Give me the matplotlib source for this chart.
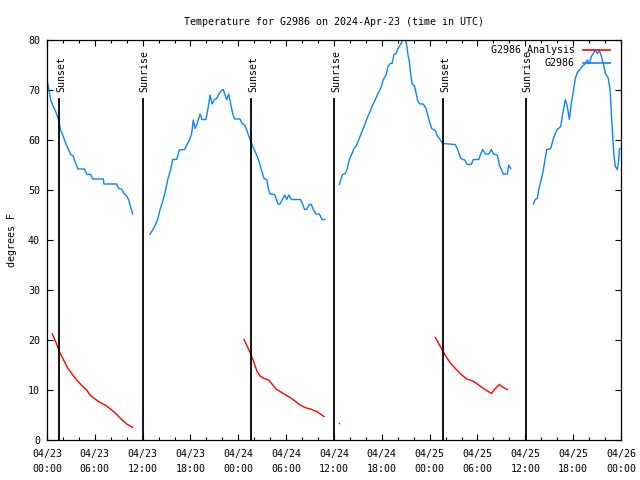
import matplotlib
matplotlib.use("Agg")
import matplotlib.pyplot as plt
import matplotlib.dates as mdates
import numpy as np
from datetime import datetime, timedelta

START = datetime(2024, 4, 23, 0, 0)

# ---- Observed temperature (G2986), hours since 2024-04-23 00:00 UTC ----
obs1_h = [0.12, 0.46, 0.79, 1.13, 1.46, 1.71, 2.05, 2.38, 2.72, 2.97, 3.30, 3.55, 3.89, 4.72, 4.98,
          5.48, 5.73, 7.07, 7.15, 8.74, 8.99, 9.41, 9.66, 10.00, 10.25, 10.41, 10.58, 10.75]
obs1_v = [71.2, 68.0, 66.7, 65.5, 64.0, 62.0, 60.7, 59.2, 58.0, 57.1, 56.8, 55.5, 54.2, 54.2, 53.2,
          53.1, 52.2, 52.2, 51.2, 51.2, 50.3, 50.1, 49.3, 48.8, 48.0, 47.0, 46.1, 45.2]

obs2_h = [12.92, 13.26, 13.59, 13.92, 14.17, 14.51, 14.84, 15.18, 15.51, 15.76, 16.27, 16.60, 17.27,
          17.52, 17.85, 18.15, 18.35, 18.57, 18.85, 19.19, 19.44, 19.94, 20.24, 20.45, 20.70, 20.95,
          21.28, 21.54, 21.87, 22.12, 22.37, 22.54, 22.79, 23.04, 23.29, 23.54, 24.21, 24.46, 24.80,
          25.05, 25.30, 25.63, 25.97, 26.30, 26.64, 26.89, 27.23, 27.56, 27.81, 27.98, 28.56, 28.98,
          29.23, 29.82, 30.07, 30.32, 30.65, 31.82, 32.32, 32.57, 32.90, 33.15, 33.40, 33.74, 34.16,
          34.50, 34.84]
obs2_v = [41.2, 42.0, 43.0, 44.3, 46.0, 47.7, 49.7, 52.3, 54.0, 56.1, 56.1, 58.0, 58.1,
          59.0, 59.9, 61.3, 64.0, 62.3, 63.3, 65.2, 64.1, 64.1, 66.7, 69.0, 67.2, 68.0,
          68.3, 69.1, 69.9, 70.1, 68.8, 68.1, 69.2, 67.2, 65.3, 64.2, 64.2, 63.3, 63.0,
          62.0, 60.8, 59.5, 58.1, 57.0, 55.5, 54.0, 52.3, 52.1, 50.0, 49.2, 49.1, 47.2,
          47.2, 49.0, 48.1, 49.0, 48.1, 48.1, 46.1, 46.1, 47.1, 47.1, 46.1, 45.2, 45.2,
          44.1, 44.1]

obs3_h = [36.67, 36.84, 37.09, 37.42, 37.67, 37.92, 38.26, 38.51, 38.84, 39.17, 39.51, 39.85, 40.18,
          40.52, 40.85, 41.19, 41.52, 41.86, 42.19, 42.53, 42.78, 43.03, 43.28, 43.53, 43.78, 44.03,
          44.37, 44.62, 44.87, 45.12, 45.28, 45.45, 45.62, 45.79, 46.12, 46.37, 46.54, 46.79, 47.20,
          47.54, 47.79, 48.04, 48.29, 48.71, 48.96, 49.30, 49.64, 51.22, 51.56, 51.89, 52.39, 52.72,
          53.22, 53.47, 54.15, 54.40, 54.65, 54.99, 55.41, 55.74, 55.99, 56.49, 56.74, 56.99, 57.24,
          57.74, 57.92, 58.17]
obs3_v = [51.1, 52.1, 53.1, 53.3, 54.3, 56.1, 57.3, 58.3, 59.0, 60.3, 61.7, 63.0, 64.5,
          65.7, 67.0, 68.1, 69.3, 70.3, 72.1, 73.0, 74.7, 75.3, 75.3, 77.1, 77.3, 78.3,
          79.2, 79.9, 80.6, 79.0, 77.0, 75.7, 73.3, 71.3, 70.7, 68.8, 67.7, 67.2, 67.2,
          66.3, 64.8, 63.3, 62.2, 61.9, 60.8, 60.1, 59.3, 59.1, 57.9, 56.3, 56.0, 55.1,
          55.1, 56.1, 56.1, 57.2, 58.1, 57.2, 57.2, 58.1, 57.2, 57.0, 55.0, 54.1, 53.2,
          53.2, 55.0, 54.3]

obs4_h = [61.00, 61.25, 61.50, 61.68, 61.93, 62.18, 62.43, 62.68, 63.18, 63.51, 63.76, 64.01, 64.44,
          64.69, 65.02, 65.27, 65.52, 65.77, 66.02, 66.27, 66.52, 66.86, 67.19, 67.53, 67.78, 68.03,
          68.28, 68.53, 68.78, 69.03, 69.28, 69.53, 69.78, 70.03, 70.37, 70.62, 70.79, 70.96, 71.12,
          71.29, 71.54, 71.72, 71.80, 71.88]
obs4_v = [47.2, 48.1, 48.3, 50.1, 51.7, 53.3, 55.7, 58.1, 58.3, 60.3, 61.3, 62.1, 62.7,
          65.3, 68.1, 66.7, 64.1, 67.3, 69.7, 72.3, 73.5, 74.1, 74.8, 75.3, 76.0, 75.3,
          76.7, 77.3, 78.0, 77.3, 77.9, 76.8, 75.3, 73.3, 72.5, 70.3, 65.3, 60.7, 56.8,
          54.7, 54.1, 56.0, 58.1, 58.3]

# ---- Analysis series (red) ----
ana1_h = [0.67, 1.13, 1.55, 2.05, 2.63, 3.14, 3.72, 4.30, 4.98, 5.39, 6.02, 6.65, 7.48, 8.11, 8.74,
          9.37, 10.00, 10.75]
ana1_v = [21.2, 19.5, 17.7, 16.1, 14.3, 13.2, 12.0, 11.0, 10.0, 9.0, 8.2, 7.5, 6.8, 6.0, 5.1,
          4.1, 3.2, 2.5]
ana2_h = [24.71, 25.13, 25.55, 25.97, 26.30, 26.72, 27.22, 27.81, 28.22, 28.73, 29.23, 29.85, 30.48,
          31.11, 31.74, 32.36, 33.20, 33.83, 34.75]
ana2_v = [20.1, 18.7, 17.2, 15.5, 13.9, 12.8, 12.3, 12.0, 11.2, 10.2, 9.7, 9.1, 8.5,
          7.8, 7.0, 6.5, 6.1, 5.7, 4.7]
ana3_h = [36.60]
ana3_v = [3.5]
ana4_h = [48.71, 49.13, 49.55, 50.05, 50.55, 51.22, 51.89, 52.65, 53.40, 53.90, 54.57, 55.16, 55.74,
          56.24, 56.74, 57.24, 57.74]
ana4_v = [20.5, 19.3, 18.1, 16.7, 15.5, 14.3, 13.2, 12.2, 11.8, 11.3, 10.5, 9.9, 9.3,
          10.3, 11.1, 10.5, 10.1]

# ---- Sun events ----
sun_labels = ["Sunset", "Sunrise", "Sunset", "Sunrise", "Sunset", "Sunrise"]
sun_hours = [1.54, 12.00, 25.63, 36.04, 49.71, 60.05]

title = "Temperature for G2986 on 2024-Apr-23 (time in UTC)"
ylabel = "degrees F"
yticks = [0, 10, 20, 30, 40, 50, 60, 70, 80]

BLUE = "#0a84ff"
RED = "#ff0000"
FONT = "DejaVu Sans Mono"
FS = 7.2

plt.rcParams['font.family'] = [FONT]
plt.rcParams['font.size'] = FS


def to_dt(hours):
    return [START + timedelta(hours=h) for h in hours]


fig = plt.figure(figsize=(6.4, 4.8), dpi=100)
ax = fig.add_axes([47/640, 40/480, (621-47)/640, (440-40)/480])

for h, v in [(ana1_h, ana1_v), (ana2_h, ana2_v), (ana4_h, ana4_v)]:
    ax.plot(to_dt(h), v, color=RED, lw=1.0)
ax.plot(to_dt(ana3_h), ana3_v, color=RED, lw=0, marker='s', ms=1.0, mew=0)

for h, v in [(obs1_h, obs1_v), (obs2_h, obs2_v), (obs3_h, obs3_v), (obs4_h, obs4_v)]:
    ax.plot(to_dt(h), v, color=BLUE, lw=1.0)

# legend handles
la, = ax.plot([], [], color=RED, lw=1.2, label="G2986 Analysis")
lb, = ax.plot([], [], color=BLUE, lw=1.2, label="G2986")

for lab, h in zip(sun_labels, sun_hours):
    t = START + timedelta(hours=h)
    ax.plot([t, t], [0, 68.2], color="black", lw=1.3)
    ax.annotate(lab, xy=(t, 69.6), xytext=(1.5, 0), textcoords="offset points",
                rotation=90, ha="center", va="bottom", fontsize=FS, family=FONT)

ax.set_xlim(START, START + timedelta(hours=72))
ax.set_ylim(0, 80)
ax.set_yticks(yticks)
ax.xaxis.set_major_locator(mdates.HourLocator(byhour=[0, 6, 12, 18]))
ax.xaxis.set_minor_locator(mdates.HourLocator(byhour=range(0, 24, 2)))
ax.xaxis.set_major_formatter(mdates.DateFormatter("%m/%d\n%H:%M"))
for lbl in ax.get_xticklabels():
    lbl.set_linespacing(1.6)
ax.tick_params(axis="both", which="major", direction="in", length=4.0, width=0.8,
               top=True, right=True, labelsize=FS, pad=5)
ax.tick_params(axis="x", which="major", pad=6.5)
ax.tick_params(axis="both", which="minor", direction="in", length=2.0, width=0.8,
               top=True, right=True)
ax.tick_params(axis="y", which="minor", left=False, right=False)
for s in ax.spines.values():
    s.set_linewidth(0.9)
    s.set_color("black")

ax.set_title(title, fontsize=FS, pad=11)
ax.set_ylabel(ylabel, fontsize=FS, labelpad=8)

leg = ax.legend(handles=[la, lb], loc="upper right", bbox_to_anchor=(0.993, 1.005),
                frameon=False, markerfirst=False, handlelength=2.7, handletextpad=0.8,
                labelspacing=0.35, borderpad=0.2, fontsize=FS)

fig.savefig("out.png", dpi=100)
